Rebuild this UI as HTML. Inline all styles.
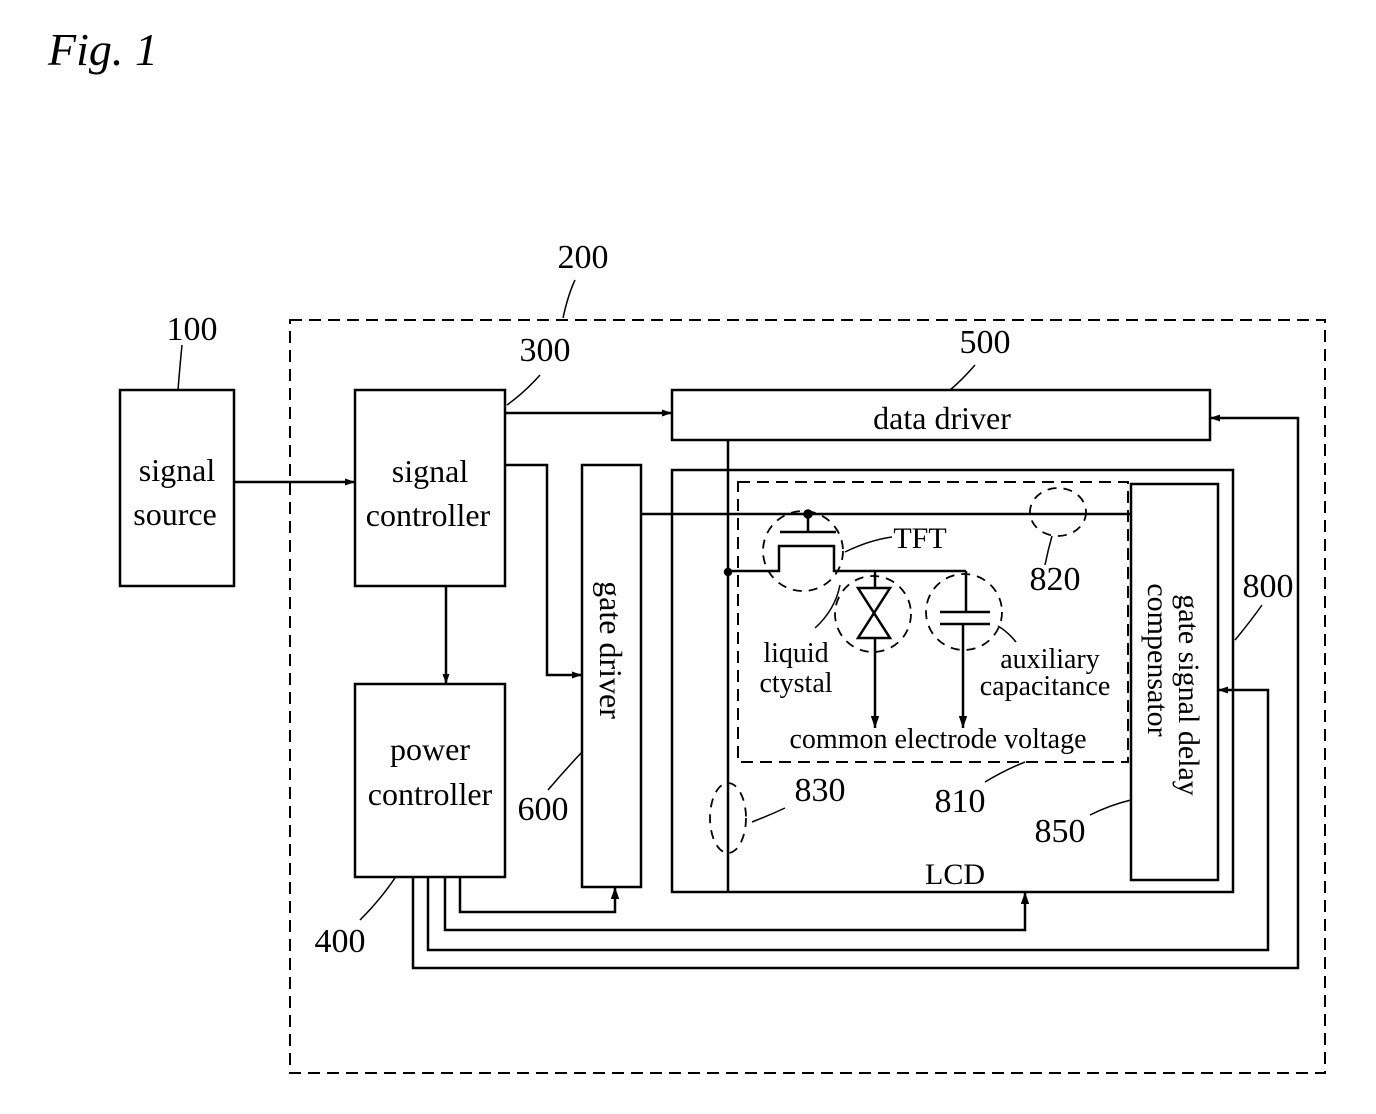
<!DOCTYPE html>
<html><head><meta charset="utf-8"><style>
html,body{margin:0;padding:0;background:#fff}
svg{display:block}
text{font-family:"Liberation Serif",serif;fill:#000}
</style></head><body>
<svg width="1376" height="1114" viewBox="0 0 1376 1114" xmlns="http://www.w3.org/2000/svg">
<defs>
<marker id="a" viewBox="0 0 10 10" refX="10" refY="5" markerWidth="16" markerHeight="10" markerUnits="userSpaceOnUse" orient="auto"><path d="M0,1.5 L10,5 L0,8.5 z" fill="#000"/></marker>
<marker id="b" viewBox="0 0 10 10" refX="10" refY="5" markerWidth="22" markerHeight="12" markerUnits="userSpaceOnUse" orient="auto"><path d="M0,1.5 L10,5 L0,8.5 z" fill="#000"/></marker>
</defs>
<g stroke="#000" fill="none" stroke-width="2.5">
<text x="48" y="65" font-size="46" font-style="italic" stroke="none">Fig. 1</text>
<rect x="290" y="320" width="1035" height="753" stroke-dasharray="12,7" stroke-width="2"/>
<path d="M575,280 Q568,295 563,318" stroke-width="1.5"/>
<path d="M182,345 Q180,365 178,390" stroke-width="1.5"/>
<path d="M540,375 Q525,392 507,405" stroke-width="1.5"/>
<path d="M975,365 Q962,380 950,390" stroke-width="1.5"/>
<path d="M548,790 Q565,770 582,752" stroke-width="1.5"/>
<path d="M360,920 Q380,900 395,878" stroke-width="1.5"/>
<path d="M1262,605 Q1250,622 1235,640" stroke-width="1.5"/>
<path d="M1090,815 Q1110,805 1131,800" stroke-width="1.5"/>
<path d="M985,782 Q1005,770 1025,762" stroke-width="1.5"/>
<path d="M785,808 Q770,815 752,822" stroke-width="1.5"/>
<path d="M1052,536 Q1048,550 1045,565" stroke-width="1.5"/>
<path d="M845,552 Q870,540 892,537" stroke-width="1.5"/>
<path d="M815,628 Q835,610 840,585" stroke-width="1.5"/>
<path d="M998,626 Q1008,632 1016,642" stroke-width="1.5"/>
<rect x="120" y="390" width="114" height="196"/>
<rect x="355" y="390" width="150" height="196"/>
<rect x="355" y="684" width="150" height="193"/>
<rect x="582" y="465" width="59" height="422"/>
<rect x="672" y="390" width="538" height="50"/>
<rect x="672" y="470" width="561" height="422"/>
<rect x="1131" y="484" width="87" height="396"/>
<rect x="738" y="482" width="390" height="280" stroke-dasharray="12,7" stroke-width="2"/>
<path d="M234,482 H355" marker-end="url(#a)"/>
<path d="M505,413 H672" marker-end="url(#a)"/>
<path d="M446,586 V684" marker-end="url(#a)"/>
<path d="M505,465 H547 V675 H582" marker-end="url(#a)"/>
<path d="M413,877 V968 H1298 V418 H1210" marker-end="url(#a)"/>
<path d="M428,877 V950 H1268 V690 H1218" marker-end="url(#a)"/>
<path d="M445,877 V930 H1025 V892" marker-end="url(#b)"/>
<path d="M460,877 V912 H615 V887" marker-end="url(#b)"/>
<path d="M728,440 V892"/>
<path d="M641,514 H1131"/>
<circle cx="808" cy="514" r="3.5" fill="#000"/>
<circle cx="728" cy="572" r="3" fill="#000"/>
<path d="M808,514 V532 M780,532 H836"/>
<path d="M728,571 H779 V546 H834 V571 H966"/>
<path d="M875,571 V588 M858,588 H890 L858,638 H890 Z" stroke-width="2.5"/>
<path d="M875,638 V728" marker-end="url(#b)"/>
<path d="M966,571 V612 M940,612 H990 M940,624 H990"/>
<path d="M963,624 V728" marker-end="url(#b)"/>
<g stroke-dasharray="9,7" stroke-width="1.8">
<circle cx="803" cy="551" r="40"/>
<circle cx="873" cy="614" r="38"/>
<circle cx="964" cy="612" r="38"/>
<ellipse cx="1058" cy="512" rx="28" ry="24"/>
<ellipse cx="728" cy="818" rx="18" ry="35"/>
</g>
</g>
<g font-size="32">
<text x="583" y="268" text-anchor="middle" font-size="34">200</text>
<text x="192" y="340" text-anchor="middle" font-size="34">100</text>
<text x="545" y="361" text-anchor="middle" font-size="34">300</text>
<text x="985" y="353" text-anchor="middle" font-size="34">500</text>
<text x="1268" y="597" text-anchor="middle" font-size="34">800</text>
<text x="1055" y="590" text-anchor="middle" font-size="34">820</text>
<text x="1060" y="842" text-anchor="middle" font-size="34">850</text>
<text x="960" y="812" text-anchor="middle" font-size="34">810</text>
<text x="820" y="801" text-anchor="middle" font-size="34">830</text>
<text x="543" y="820" text-anchor="middle" font-size="34">600</text>
<text x="340" y="952" text-anchor="middle" font-size="34">400</text>
<text x="177" y="481" text-anchor="middle">signal</text>
<text x="175" y="525" text-anchor="middle">source</text>
<text x="430" y="482" text-anchor="middle">signal</text>
<text x="428" y="526" text-anchor="middle">controller</text>
<text x="430" y="760" text-anchor="middle">power</text>
<text x="430" y="805" text-anchor="middle">controller</text>
<text x="942" y="429" text-anchor="middle">data  driver</text>
<text x="955" y="884" text-anchor="middle" font-size="30">LCD</text>
<text x="920" y="548" text-anchor="middle" font-size="30">TFT</text>
<text x="796" y="662" text-anchor="middle" font-size="28">liquid</text>
<text x="796" y="692" text-anchor="middle" font-size="28">ctystal</text>
<text x="1050" y="668" text-anchor="middle" font-size="28">auxiliary</text>
<text x="1045" y="695" text-anchor="middle" font-size="28">capacitance</text>
<text x="938" y="748" text-anchor="middle" font-size="28">common  electrode  voltage</text>
<text transform="translate(600,650) rotate(90)" text-anchor="middle">gate  driver</text>
<text transform="translate(1179,695) rotate(90)" text-anchor="middle" font-size="30">gate  signal  delay</text>
<text transform="translate(1148,660) rotate(90)" text-anchor="middle" font-size="30">compensator</text>
</g>
</svg>
</body></html>
